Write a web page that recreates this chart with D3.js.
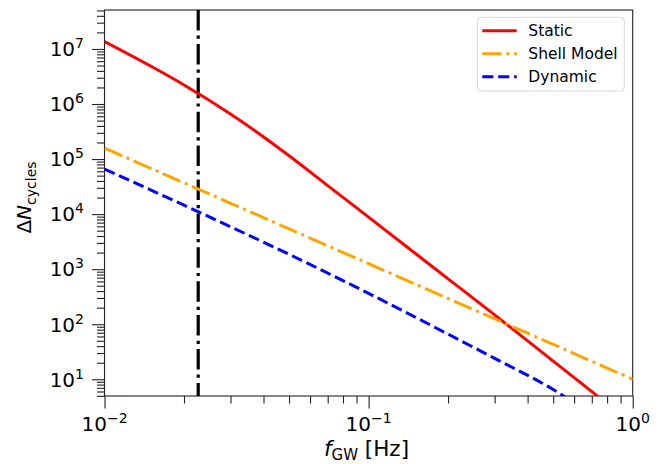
<!DOCTYPE html>
<html>
<head>
<meta charset="utf-8">
<script src="https://cdn.jsdelivr.net/npm/d3@7"></script>
<style>
  body { margin: 0; background: #fff; }
  text { font-family: "DejaVu Sans", sans-serif; fill: #000; }
</style>
</head>
<body>
<svg width="667" height="464"></svg>
<script>
// Frequencies (Hz) and dephasing cycles
const staticFreq = [0.01, 0.015, 0.02, 0.03, 0.05, 0.07, 0.1, 0.15, 0.2, 0.3, 0.5, 0.73, 0.8];
const staticVals = [1.36e7, 4.84e6, 2.22e6, 6.6e5, 1.15e5, 3.3e4, 8.8e3, 1.95e3, 668, 148, 21.4, 5.1, 3.6];

const shellFreq = [0.01, 0.02, 0.05, 0.1, 0.2, 0.5, 1];
const shellVals = [1.58e5, 3.7e4, 5.4e3, 1.26e3, 294, 43, 10];

const dynamicFreq = [0.01, 0.02, 0.05, 0.1, 0.2, 0.3, 0.5, 0.63];
const dynamicVals = [6.6e4, 1.45e4, 1.86e3, 363, 66, 24, 6.5, 3.2];

const markerFreq = 0.02264; // vertical dash-dot line

const xMajor = [0.01, 0.1, 1];
const xMajorExp = ["−2", "−1", "0"];
const yMajor = [1e1, 1e2, 1e3, 1e4, 1e5, 1e6, 1e7];
const yMajorExp = ["1", "2", "3", "4", "5", "6", "7"];
const legendNames = ["Static", "Shell Model", "Dynamic"];

const svg = d3.select("svg");
const plotLeft = 104.5, plotRight = 632.7, plotTop = 10, plotBottom = 396;

const x = d3.scaleLog().domain([0.01, 1]).range([plotLeft, plotRight]);
const y = d3.scaleLog().domain([4.97, 5.1e7]).range([plotBottom, plotTop]);

// minor ticks: 2..9 times each decade
function minorTicks(lo, hi) {
    let out = [];
    for (let p = Math.floor(Math.log10(lo)); p <= Math.ceil(Math.log10(hi)); p++) {
        for (let k = 2; k <= 9; k++) {
            const v = k * Math.pow(10, p);
            if (v >= lo && v <= hi) out.push(v);
        }
    }
    return out;
}

// axes
const gx = svg.append("g").attr("transform", `translate(0,${plotBottom})`);
gx.call(d3.axisBottom(x).tickValues(xMajor).tickSize(12.5).tickFormat(""));
gx.append("g").call(d3.axisBottom(x).tickValues(minorTicks(0.01, 1)).tickSize(7.5).tickFormat(""));

const gy = svg.append("g").attr("transform", `translate(${plotLeft},0)`);
gy.call(d3.axisLeft(y).tickValues(yMajor).tickSize(12.5).tickFormat(""));
gy.append("g").call(d3.axisLeft(y).tickValues(minorTicks(4.97, 5.1e7)).tickSize(7.5).tickFormat(""));

svg.selectAll(".domain").remove();
svg.selectAll(".tick line").attr("stroke", "#222").attr("stroke-width", 1.1);

// frame
svg.append("rect")
    .attr("x", plotLeft).attr("y", plotTop)
    .attr("width", plotRight - plotLeft).attr("height", plotBottom - plotTop)
    .attr("fill", "none").attr("stroke", "#222").attr("stroke-width", 1.1);

// tick labels: 10^n
xMajor.forEach((v, i) => {
    const t = svg.append("text")
        .attr("x", x(v)).attr("y", 431.3)
        .attr("text-anchor", "middle")
        .style("font-size", "20px");
    t.append("tspan").text("10");
    t.append("tspan").attr("dy", -8).style("font-size", "14px").text(xMajorExp[i]);
});

yMajor.forEach((v, i) => {
    const t = svg.append("text")
        .attr("x", 84).attr("y", y(v) + 7.3)
        .attr("text-anchor", "end")
        .style("font-size", "20px");
    t.append("tspan").text("10");
    t.append("tspan").attr("dy", -8).style("font-size", "14px").text(yMajorExp[i]);
});

// axis labels
const xl = svg.append("text")
    .attr("x", 366.5).attr("y", 456)
    .attr("text-anchor", "middle")
    .style("font-size", "21.5px");
xl.append("tspan").style("font-style", "italic").text("f");
xl.append("tspan").attr("dy", 4).style("font-size", "15px").text("GW");
xl.append("tspan").attr("dy", -4).text(" [Hz]");

const yl = svg.append("text")
    .attr("transform", "translate(30.5,197.5) rotate(-90)")
    .attr("text-anchor", "middle")
    .style("font-size", "20px");
yl.append("tspan").text("Δ");
yl.append("tspan").style("font-style", "italic").text("N");
yl.append("tspan").attr("dy", 5).style("font-size", "14px").text("cycles");

// curves
svg.append("clipPath").attr("id", "plot-clip")
    .append("rect")
    .attr("x", plotLeft).attr("y", plotTop)
    .attr("width", plotRight - plotLeft).attr("height", plotBottom - plotTop);

const plot = svg.append("g").attr("clip-path", "url(#plot-clip)");

const line = d3.line()
    .x(d => x(d.f))
    .y(d => y(d.v))
    .curve(d3.curveMonotoneX);

function toPoints(freq, vals) {
    return freq.map((f, i) => ({f: f, v: vals[i]}));
}

const series = [
    {pts: toPoints(staticFreq, staticVals), color: "#ff0000", dash: null},
    {pts: toPoints(shellFreq, shellVals), color: "#ffa500", dash: "19.2,4.8,3,4.8"},
    {pts: toPoints(dynamicFreq, dynamicVals), color: "#0000ff", dash: "11.1,4.8"}
];

// vertical marker
plot.append("line")
    .attr("x1", x(markerFreq)).attr("x2", x(markerFreq))
    .attr("y1", plotTop).attr("y2", plotBottom)
    .attr("stroke", "#000").attr("stroke-width", 3.2)
    .attr("stroke-dasharray", "20.5,5.1,3.2,5.1");

series.forEach(s => {
    plot.append("path")
        .attr("d", line(s.pts))
        .attr("fill", "none")
        .attr("stroke", s.color)
        .attr("stroke-width", 3)
        .attr("stroke-dasharray", s.dash);
});

// legend
const lg = svg.append("g");
lg.append("rect")
    .attr("x", 477.3).attr("y", 17.3)
    .attr("width", 147).attr("height", 73.7)
    .attr("rx", 4)
    .attr("fill", "#fff").attr("fill-opacity", 0.8)
    .attr("stroke", "#d6d6d6").attr("stroke-width", 1);

series.forEach((s, i) => {
    const ly = 30.7 + i * 23;
    lg.append("line")
        .attr("x1", 482.3).attr("x2", 516.7)
        .attr("y1", ly).attr("y2", ly)
        .attr("stroke", s.color).attr("stroke-width", 3)
        .attr("stroke-dasharray", s.dash);
    lg.append("text")
        .attr("x", 528.3).attr("y", ly + 5.5)
        .style("font-size", "15.5px")
        .text(legendNames[i]);
});
</script>
</body>
</html>
